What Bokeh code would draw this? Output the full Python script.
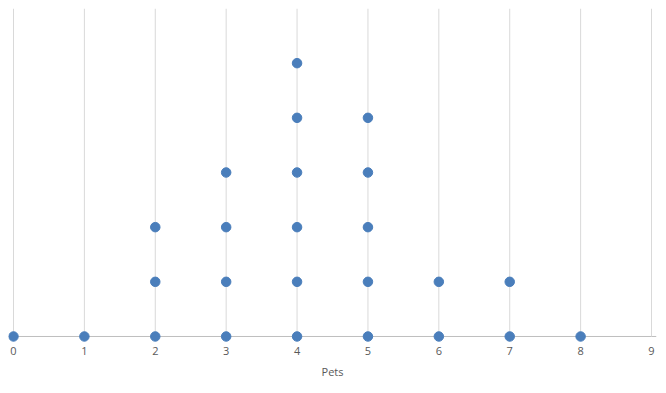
from bokeh.plotting import figure
from bokeh.models import Range1d, Span, FixedTicker
from bokeh.embed import file_html
from bokeh.resources import INLINE

# Data: number of pets and how many people have that many
pets = [0, 1, 2, 3, 4, 5, 6, 7, 8, 9]
counts = [1, 1, 3, 4, 6, 5, 2, 2, 1, 0]
tick_values = [0, 1, 2, 3, 4, 5, 6, 7, 8, 9]

xs, ys = [], []
for v, c in zip(pets, counts):
    for k in range(c):
        xs.append(v)
        ys.append(k)

p = figure(width=664, height=391, output_backend="svg", toolbar_location=None,
           x_range=Range1d(-0.0705, 9.0705), y_range=Range1d(-0.11, 6.0),
           min_border_left=8, min_border_right=8, min_border_top=8,
           min_border_bottom=49)
p.outline_line_color = None
p.xgrid.visible = False
p.ygrid.visible = False
p.yaxis.visible = False

# vertical gridlines from axis line to top
p.segment(x0=tick_values, y0=[0] * len(tick_values), x1=tick_values,
          y1=[6] * len(tick_values), line_color="#d9d9d9", line_width=1)

p.add_layout(Span(location=0, dimension="width", line_color="#bfbfbf",
                  line_width=1, level="underlay"))

p.scatter(xs, ys, size=9.5, fill_color="#4a7ebb", line_color="#4a7ebb")

ax = p.xaxis[0]
ax.ticker = FixedTicker(ticks=tick_values)
ax.axis_line_color = None
ax.major_tick_line_color = None
ax.minor_tick_line_color = None
ax.major_tick_out = 0
ax.major_label_standoff = 4
ax.major_label_text_font = "Open Sans"
ax.major_label_text_font_size = "11px"
ax.major_label_text_color = "#595959"
ax.axis_label = "Pets"
ax.axis_label_text_font = "Open Sans"
ax.axis_label_text_font_size = "11px"
ax.axis_label_text_font_style = "normal"
ax.axis_label_text_color = "#595959"
ax.axis_label_standoff = 6

open("out.html", "w").write(file_html(p, INLINE))
